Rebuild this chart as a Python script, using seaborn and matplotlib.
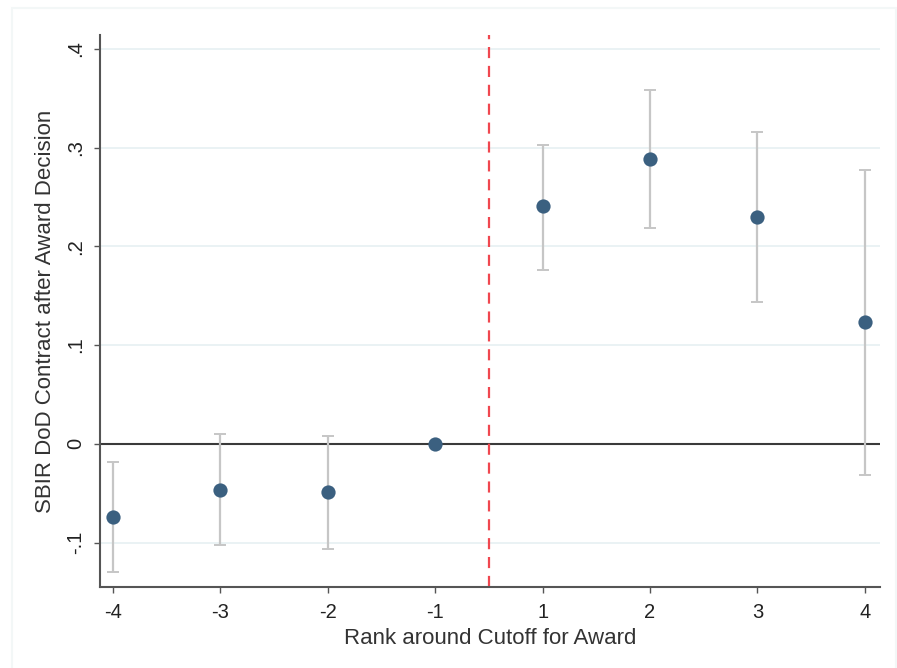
import matplotlib
matplotlib.use("Agg")
import matplotlib.pyplot as plt
from matplotlib.patches import Rectangle
import numpy as np
import pandas as pd
import seaborn as sns

# Event-study style estimates by rank relative to the award cutoff
ranks = ["-4", "-3", "-2", "-1", "1", "2", "3", "4"]
coef = [-0.074, -0.047, -0.049, 0.0, 0.241, 0.288, 0.230, 0.123]
ci_low = [-0.130, -0.1025, -0.107, 0.0, 0.176, 0.219, 0.144, -0.032]
ci_high = [-0.018, 0.010, 0.008, 0.0, 0.303, 0.358, 0.316, 0.277]
ytick_vals = [-0.1, 0.0, 0.1, 0.2, 0.3, 0.4]
ytick_labels = ["-.1", "0", ".1", ".2", ".3", ".4"]

df = pd.DataFrame({"rank": ranks, "pos": np.arange(len(ranks)),
                   "coef": coef, "lo": ci_low, "hi": ci_high})

sns.set_theme(style="white")
plt.rcParams["font.family"] = ["Liberation Sans", "DejaVu Sans"]

fig = plt.figure(figsize=(8.97, 6.68), dpi=100)
fig.patch.set_facecolor("white")

# faint outer graph-region frame
fig.patches.append(Rectangle((12 / 897, -0.05), 884 / 897, (660 / 668) + 0.05,
                             transform=fig.transFigure, fill=False,
                             edgecolor="#f3f7f7", lw=1.5, zorder=0))

ax = fig.add_axes([0.1115, 0.1213, 0.8695, 0.8263])

# horizontal grid
for v in ytick_vals:
    if v != 0:
        ax.axhline(v, color="#e6f0f2", lw=1.2, zorder=0)
ax.axhline(0, color="#3a3a3a", lw=1.5, zorder=1)

# confidence intervals (omitted for the reference rank)
ci = df[df["rank"] != "-1"]
ax.errorbar(ci["pos"], ci["coef"],
            yerr=[ci["coef"] - ci["lo"], ci["hi"] - ci["coef"]],
            fmt="none", ecolor="#c6c6c6", elinewidth=1.6, capsize=4.3,
            capthick=1.4, zorder=2)

sns.scatterplot(data=df, x="pos", y="coef", ax=ax, s=105, color="#3b6080",
                edgecolor="#3b6080", linewidth=0, zorder=3, legend=False)

# cutoff between rank -1 and rank 1
ax.axvline(3.5, color="#f0474f", lw=1.6, ls=(0, (5, 3.5)), zorder=2)

ax.set_xlim(-0.12, 7.14)
ax.set_ylim(-0.145, 0.414)
ax.set_xticks(df["pos"])
ax.set_xticklabels(ranks, fontsize=14.5, color="#222222")
ax.set_yticks(ytick_vals)
ax.set_yticklabels(ytick_labels, rotation=90, va="center", fontsize=14.5,
                   color="#222222")
ax.tick_params(axis="both", which="both", length=4.5, width=1, color="#555555",
               direction="out", bottom=True, left=True)
ax.tick_params(axis="x", pad=7)
ax.tick_params(axis="y", pad=6)

for side in ["top", "right"]:
    ax.spines[side].set_visible(False)
for side in ["left", "bottom"]:
    ax.spines[side].set_color("#555555")
    ax.spines[side].set_linewidth(1.5)

ax.set_xlabel("Rank around Cutoff for Award", fontsize=16, color="#333333")
ax.set_ylabel("SBIR DoD Contract after Award Decision", fontsize=16,
              color="#333333")
ax.xaxis.set_label_coords(0.5, -0.075)
ax.yaxis.set_label_coords(-0.056, 0.5)

fig.savefig("out.png", dpi=100, facecolor="white")
